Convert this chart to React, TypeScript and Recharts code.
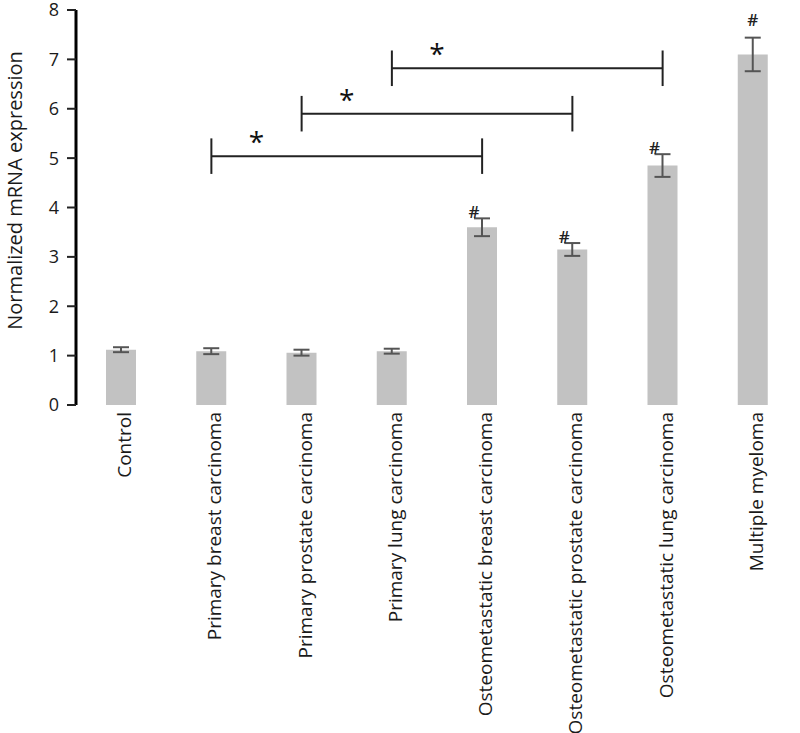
import React from 'react';
import { BarChart, Bar, XAxis, YAxis, ErrorBar, LabelList, ReferenceLine } from 'recharts';

const categories = [
  'Control',
  'Primary breast carcinoma',
  'Primary prostate carcinoma',
  'Primary lung carcinoma',
  'Osteometastatic breast carcinoma',
  'Osteometastatic prostate carcinoma',
  'Osteometastatic lung carcinoma',
  'Multiple myeloma',
];
const expression = [1.12, 1.09, 1.06, 1.09, 3.6, 3.15, 4.85, 7.1];
const sem = [0.05, 0.06, 0.06, 0.05, 0.18, 0.13, 0.23, 0.34];
const marks = ['', '', '', '', '#', '#', '#', '#'];
const yTicks = [0, 1, 2, 3, 4, 5, 6, 7, 8];
const edgeTicks = [1, 2, 3, 4, 5, 6, 7, 8];

// significance brackets (primary vs osteometastatic)
const brackets = [
  { from: 'Primary breast carcinoma', to: 'Osteometastatic breast carcinoma', y: 5.04 },
  { from: 'Primary prostate carcinoma', to: 'Osteometastatic prostate carcinoma', y: 5.9 },
  { from: 'Primary lung carcinoma', to: 'Osteometastatic lung carcinoma', y: 6.82 },
];

const data = categories.map((name, i) => ({
  name,
  value: expression[i],
  err: sem[i],
  mark: marks[i],
}));

const FONT = '"Open Sans", "Noto Sans", sans-serif';
const CAP = 0.36;

const CatTick = (props: any) => {
  const { x, y, payload } = props;
  return (
    <text
      x={x}
      y={y}
      transform={`rotate(-90 ${x} ${y})`}
      textAnchor="end"
      dominantBaseline="central"
      dx={-7}
      dy={3}
      fontSize={19}
      fontFamily={FONT}
      fill="#1a1a1a"
    >
      {payload.value}
    </text>
  );
};

const renderMark = (props: any) => {
  const { x, y, width, height, value, index } = props;
  if (!value) return null;
  const perUnit = height / expression[index];
  const errTop = y - sem[index] * perUnit;
  const last = index === categories.length - 1;
  return (
    <text
      x={x + width / 2 + (last ? 0 : -8)}
      y={errTop + (last ? -12 : 0)}
      textAnchor="middle"
      fontSize={17}
      fontWeight={600}
      fontFamily={FONT}
      fill="#222"
    >
      {value}
    </text>
  );
};

export default function App() {
  return (
    <div style={{ position: 'absolute', left: 0, top: 0, background: '#fff' }}>
      <BarChart
        width={800}
        height={733}
        data={data}
        margin={{ top: 10, right: 2, bottom: 0, left: 0 }}
      >
        <XAxis
          xAxisId="edges"
          type="number"
          domain={[0, 8]}
          ticks={edgeTicks}
          interval={0}
          height={0}
          tick={false}
          tickSize={9}
          axisLine={{ stroke: '#333', strokeWidth: 1.5 }}
          tickLine={{ stroke: '#222', strokeWidth: 2 }}
        />
        <XAxis
          xAxisId="cat"
          dataKey="name"
          type="category"
          height={328}
          interval={0}
          axisLine={false}
          tickLine={false}
          tickSize={0}
          tickMargin={0}
          tick={<CatTick />}
        />
        <YAxis
          domain={[0, 8]}
          ticks={yTicks}
          interval={0}
          width={76}
          tickSize={9}
          tickMargin={8}
          axisLine={{ stroke: '#000', strokeWidth: 3 }}
          tickLine={{ stroke: '#222', strokeWidth: 2 }}
          tick={{ fontSize: 18, fill: '#1a1a1a', fontFamily: FONT }}
          label={{
            content: (p: any) => {
              const vb = p.viewBox;
              const cy = vb.y + vb.height / 2 - 17;
              return (
                <text
                  x={14}
                  y={cy}
                  transform={`rotate(-90 14 ${cy})`}
                  textAnchor="middle"
                  dominantBaseline="central"
                  fontSize={20}
                  fontFamily={FONT}
                  fill="#1a1a1a"
                >
                  Normalized mRNA expression
                </text>
              );
            },
          }}
        />
        <Bar
          xAxisId="cat"
          dataKey="value"
          fill="#c2c2c2"
          barSize={30}
          isAnimationActive={false}
        >
          <ErrorBar dataKey="err" width={8} stroke="#555" strokeWidth={2} direction="y" />
          <LabelList dataKey="mark" content={renderMark} />
        </Bar>
        {brackets.map((b) => {
          const next = categories[categories.indexOf(b.from) + 1];
          return (
            <React.Fragment key={b.from}>
              <ReferenceLine
                xAxisId="cat"
                segment={[{ x: b.from, y: b.y }, { x: b.to, y: b.y }]}
                stroke="#222"
                strokeWidth={2}
              />
              <ReferenceLine
                xAxisId="cat"
                segment={[{ x: b.from, y: b.y - CAP }, { x: b.from, y: b.y + CAP }]}
                stroke="#222"
                strokeWidth={2}
              />
              <ReferenceLine
                xAxisId="cat"
                segment={[{ x: b.to, y: b.y - CAP }, { x: b.to, y: b.y + CAP }]}
                stroke="#222"
                strokeWidth={2}
              />
              <ReferenceLine
                xAxisId="cat"
                segment={[{ x: b.from, y: b.y }, { x: next, y: b.y }]}
                stroke="none"
                label={{ value: '*', position: 'top', offset: 4, fontSize: 28, fill: '#111', fontFamily: FONT }}
              />
            </React.Fragment>
          );
        })}
      </BarChart>
    </div>
  );
}
